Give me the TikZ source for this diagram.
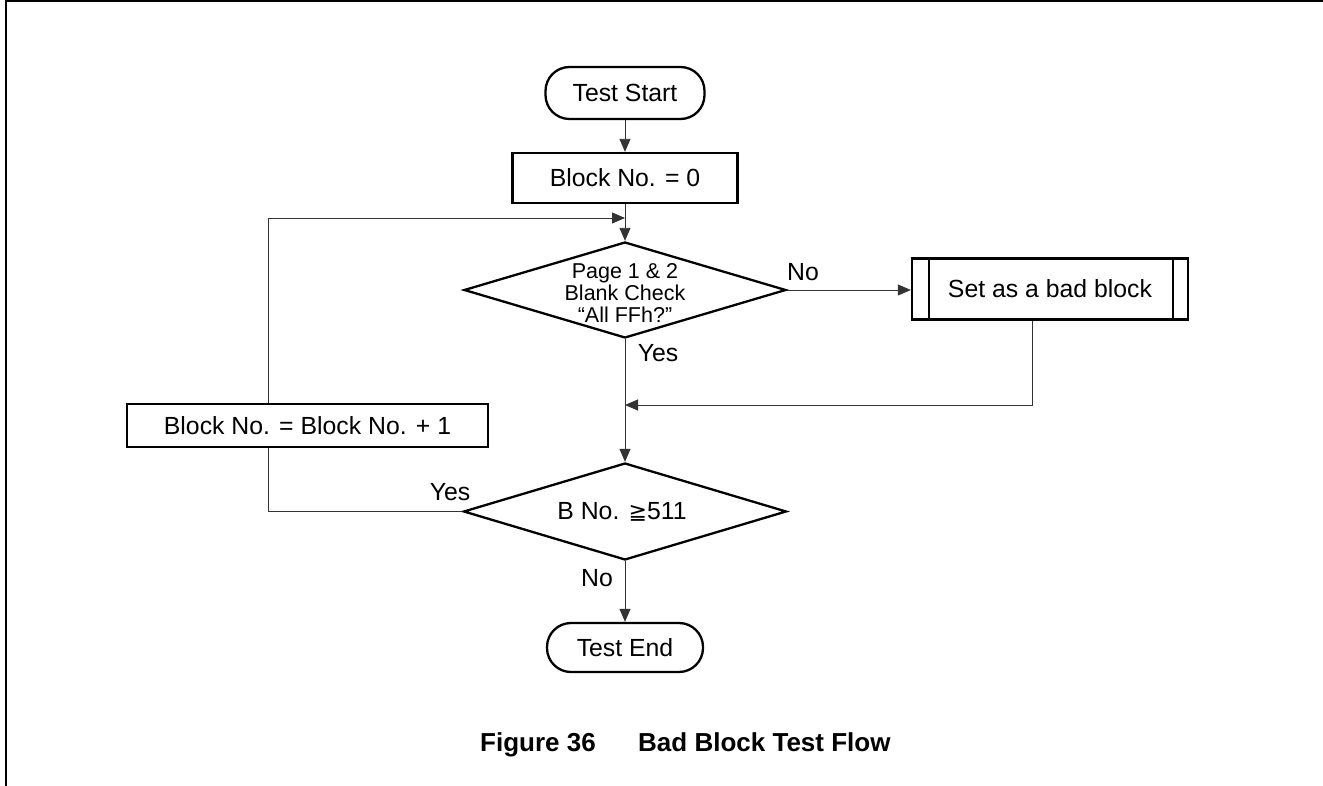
\documentclass[tikz,border=0pt]{standalone}
\usepackage{fontspec}
\setmainfont{Liberation Sans}
\newfontfamily\symfont{DejaVu Sans}
\usetikzlibrary{shapes.geometric,arrows.meta}
\begin{document}
\begin{tikzpicture}[x=1pt,y=-1pt,
  every node/.style={font=\fontsize{24.8pt}{21.8pt}\selectfont, inner sep=0pt},
  box/.style={draw, line width=2.3pt, rectangle},
  term/.style={draw, line width=2.3pt, rectangle, rounded corners=24pt},
  dia/.style={draw, line width=2.3pt, diamond, minimum width=322pt, minimum height=96pt},
  conn/.style={line width=0.9pt, draw=black!80},
  arr/.style={conn, -{Triangle[length=13pt,width=11pt]}},
  capt/.style={anchor=base west, font=\fontsize{26pt}{28pt}\selectfont\bfseries}
]
\useasboundingbox (0,0) rectangle (1323,786);
% frame
\draw[line width=2pt] (5.5,786) -- (5.5,1) -- (1323,1);

% nodes
\node[term, minimum width=159pt, minimum height=52pt] (start) at (625,93) {Test Start};
\node[box, minimum width=225pt, minimum height=50pt] (b0) at (625,178) {Block No. = 0};
\node[dia] (d1) at (625,290) {};
\node[align=center, font=\fontsize{21.5pt}{22pt}\selectfont] (d1t) at (625,293) {Page 1 \& 2\\Blank Check\\“All FFh?”};
\node[box, minimum width=276pt, minimum height=61pt] (bad) at (1050,289) {Set as a bad block};
\draw[line width=2.3pt] ([xshift=18pt]bad.north west) -- ([xshift=18pt]bad.south west);
\draw[line width=2.3pt] ([xshift=-16pt]bad.north east) -- ([xshift=-16pt]bad.south east);
\node[box, minimum width=361pt, minimum height=43pt] (inc) at (307.5,425.5) {Block No. = Block No. + 1};
\node[dia, minimum width=323pt, minimum height=97pt] (d2) at (625,511.5) {};
\node (d2t) at (622,512) {B No. {\symfont\fontsize{22pt}{22pt}\selectfont ≧}511};
\node[term, minimum width=156pt, minimum height=49pt] (end) at (625,647.5) {Test End};

% coordinates
\coordinate (m1) at (625,405);
\coordinate (m2) at (625,218);

% connectors
\draw[arr] (start.south) -- (b0.north);
\draw[arr] (b0.south) -- (d1.north);
\draw[arr] (d1.east) -- (d1.east -| bad.west);
\draw[arr] (d1.south) -- (d2.north);
\draw[arr] ([xshift=-18pt]bad.south) |- (m1);
\draw[conn] (d2.west) -| ([xshift=-39.5pt]inc.south);
\draw[arr] ([xshift=-39.5pt]inc.north) |- (m2);
\draw[arr] (d2.south) -- (end.north);

% labels
\node (no1) at (803,272) {No};
\node (yes1) at (658,353) {Yes};
\node (yes2) at (450,492) {Yes};
\node (no2) at (597,578) {No};

% caption
\node[capt] (cap1) at (480,751) {Figure 36};
\node[capt] (cap2) at (638,751) {Bad Block Test Flow};
\end{tikzpicture}
\end{document}
